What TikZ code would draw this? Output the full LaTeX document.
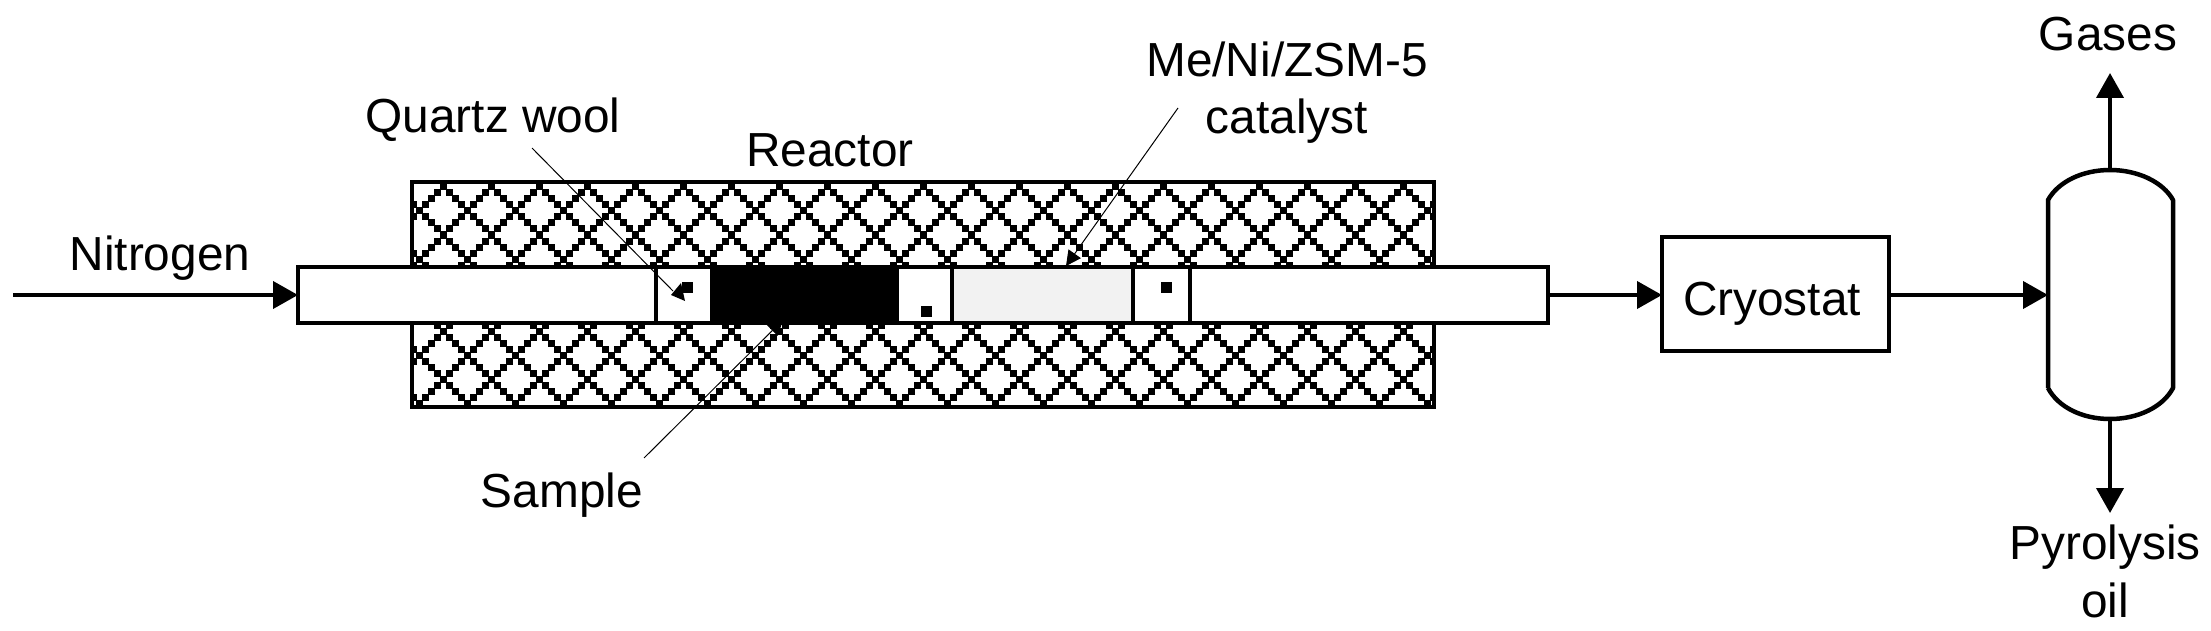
\documentclass[tikz,border=0pt]{standalone}
\usepackage{fontspec}
\setmainfont{Liberation Sans}
\usetikzlibrary{arrows.meta}
\tikzset{
  flow/.style={line width=4pt,-{Triangle[length=25pt,width=27pt,sep=0pt]}},
  leader/.style={line width=1pt,-{Triangle[length=15pt,width=15pt,sep=0pt]}},
  plainleader/.style={line width=1pt},
  box/.style={draw=black,line width=4.5pt,rectangle,inner sep=0pt,outer sep=0pt,fill=white},
  dot/.style={fill=black,rectangle,inner sep=0pt,outer sep=0pt,minimum size=11pt},
  label/.style={font=\fontsize{47.8}{57.5}\selectfont,inner sep=0pt,outer sep=0pt,anchor=base,align=center}
}
\begin{document}
\begin{tikzpicture}[x=1pt,y=-1pt]
\useasboundingbox (0,0) rectangle (2211,631);
\fill[white] (0,0) rectangle (2211,631);
% furnace with pixel hatch
\begin{scope}
\clip (412,182) rectangle (1434,407);
\foreach \i in {-1,...,21}
 \foreach \j in {-1,...,5}
  \foreach \t in {0,...,7}{
   \fill[black] ({439.5+48*\i+6*\t},{183.5+48*\j+6*\t}) rectangle +(7,7);
   \fill[black] ({439.5+48*\i+6*\t},{183.5+48*\j-6*\t}) rectangle +(7,7);
  }
\end{scope}
\node[box,fill=none,minimum width=1022pt,minimum height=225pt] (furnace) at (923,294.5) {};
% tube
\node[box,minimum width=1250pt,minimum height=56pt] (tube) at (923,295) {};
\node[box,minimum width=56pt,minimum height=56pt] (woolA) at (684,295) {};
\node[box,fill=black,minimum width=185pt,minimum height=56pt] (sample) at (804.5,295) {};
\node[box,minimum width=55pt,minimum height=56pt] (woolB) at (924.5,295) {};
\node[box,fill=black!5,minimum width=181pt,minimum height=56pt] (catalyst) at (1042.5,295) {};
\node[box,minimum width=57pt,minimum height=56pt] (woolC) at (1161.5,295) {};
\node[dot] (dotA) at (687,287) {};
\node[dot] (dotB) at (926,311) {};
\node[dot] (dotC) at (1166,287) {};
\fill[black] (671,295) -- (681,283) -- (685,301) -- cycle;
% cryostat and vessel
\node[box,minimum width=227pt,minimum height=114pt] (cryostat) at (1775.5,294) {};
\node[label] (cryotext) at (1772,315) {Cryostat};
\coordinate (vesselW) at (2048,295);
\coordinate (vesselT) at (2110,170);
\coordinate (vesselB) at (2110,419);
\draw[line width=4.5pt,line join=round] (2048,388) -- (2048,200)
  .. controls (2058,182) and (2082,170) .. (vesselT)
  .. controls (2138,170) and (2163,182) .. (2173,200)
  -- (2173,388)
  .. controls (2163,407) and (2138,419) .. (vesselB)
  .. controls (2082,419) and (2058,407) .. (2048,388);
% connectors
\coordinate (nin) at (13,295);
\coordinate (gasEnd) at (2110,73);
\coordinate (oilEnd) at (2110,513);
\draw[flow] (nin) -- (tube.west);
\draw[flow] (tube.east) -- (cryostat.west |- tube.east);
\draw[flow] (cryostat.east |- vesselW) -- (vesselW);
\draw[flow] (vesselT) -- (gasEnd);
\draw[flow] (vesselB) -- (oilEnd);
% leaders
\coordinate (qStart) at (532,148);
\coordinate (qEnd) at (673,291);
\coordinate (sStart) at (644,458);
\coordinate (sEnd) at (783,320);
\coordinate (cStart) at (1178,108);
\coordinate (cEnd) at (1066,266);
\draw[plainleader] (qStart) -- (qEnd);
\draw[leader] (sStart) -- (sEnd);
\draw[leader] (cStart) -- (cEnd);
% labels
\node[label] (nitrogen) at (160,270) {Nitrogen};
\node[label] (quartz) at (493,133) {Quartz wool};
\node[label] (reactor) at (830,167) {Reactor};
\node[label] (sampletext) at (562,507) {Sample};
\node[label] (metal) at (1287,77) {Me/Ni/ZSM-5};
\node[label] (cattext) at (1287,134) {catalyst};
\node[label] (gases) at (2108,51) {Gases};
\node[label] (pyro) at (2105,559) {Pyrolysis};
\node[label] (oil) at (2105,617) {oil};
\end{tikzpicture}
\end{document}
